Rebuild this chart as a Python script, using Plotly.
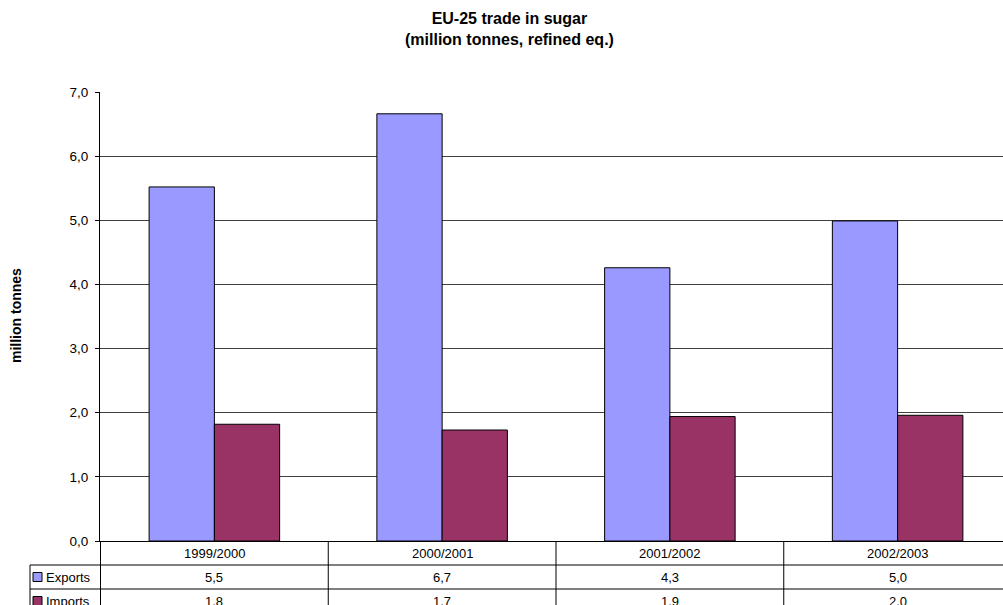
import plotly.graph_objects as go

categories = ["1999/2000", "2000/2001", "2001/2002", "2002/2003"]
exports = [5.52, 6.66, 4.26, 4.99]
imports = [1.82, 1.73, 1.94, 1.96]
series_names = ["Exports", "Imports"]
colors = ["#9999FF", "#993366"]
y_ticks = [0, 1, 2, 3, 4, 5, 6, 7]
y_tick_labels = ["0,0", "1,0", "2,0", "3,0", "4,0", "5,0", "6,0", "7,0"]

W, H = 1020, 620
L, R, T, B = 100, 1012, 92, 541
FONT = "Liberation Sans, Arial, sans-serif"


def px2x(px):
    return (px - L) / (R - L)


def py2y(py):
    return (B - py) / (B - T)


def fmt(v):
    return f"{v:.1f}".replace(".", ",")


fig = go.Figure()
for name, vals, col in zip(series_names, [exports, imports], colors):
    fig.add_trace(go.Bar(x=categories, y=vals, name=name, marker_color=col,
                         marker_line_color="#000000", marker_line_width=1,
                         showlegend=False, hoverinfo="skip"))

shapes = []
annotations = []
bottom_y = py2y(613)
for i in range(len(categories) + 1):
    shapes.append(dict(type="line", xref="x", yref="paper", x0=i - 0.5, x1=i - 0.5,
                       y0=0, y1=bottom_y, line=dict(color="#000000", width=1)))
for py in [565, 589, 613]:
    shapes.append(dict(type="line", xref="paper", yref="paper", x0=px2x(30), x1=1,
                       y0=py2y(py), y1=py2y(py), line=dict(color="#000000", width=1)))
shapes.append(dict(type="line", xref="paper", yref="paper", x0=px2x(30), x1=px2x(30),
                   y0=py2y(565), y1=bottom_y, line=dict(color="#000000", width=1)))

row_centers = [577, 601]
for name, vals, col, rc in zip(series_names, [exports, imports], colors, row_centers):
    shapes.append(dict(type="rect", xref="paper", yref="paper",
                       x0=px2x(33), x1=px2x(42), y0=py2y(rc + 4.5), y1=py2y(rc - 4.5),
                       fillcolor=col, line=dict(color="#000000", width=1)))
    annotations.append(dict(text=name, xref="paper", yref="paper", x=px2x(44), y=py2y(rc),
                            xanchor="left", yanchor="middle", showarrow=False,
                            font=dict(size=13, color="#000000", family=FONT)))
    for c, v in zip(categories, vals):
        annotations.append(dict(text=fmt(v), xref="x", yref="paper", x=c, y=py2y(rc),
                                xanchor="center", yanchor="middle", showarrow=False,
                                font=dict(size=13, color="#000000", family=FONT)))
for c in categories:
    annotations.append(dict(text=c, xref="x", yref="paper", x=c, y=py2y(553),
                            xanchor="center", yanchor="middle", showarrow=False,
                            font=dict(size=13, color="#000000", family=FONT)))

annotations.append(dict(text="<b>EU-25 trade in sugar<br>(million tonnes, refined eq.)</b>",
                        xref="paper", yref="paper", x=px2x(509), y=py2y(29),
                        xanchor="center", yanchor="middle", showarrow=False,
                        font=dict(size=16, color="#000000", family=FONT)))
annotations.append(dict(text="<b>million tonnes</b>", xref="paper", yref="paper",
                        x=px2x(16), y=py2y(316), textangle=-90,
                        xanchor="center", yanchor="middle", showarrow=False,
                        font=dict(size=14, color="#000000", family=FONT)))

fig.update_layout(
    width=W, height=H,
    margin=dict(l=L, r=W - R, t=T, b=H - B, pad=0),
    paper_bgcolor="#FFFFFF", plot_bgcolor="#FFFFFF",
    barmode="group", bargap=0.427, bargroupgap=0,
    font=dict(family=FONT, size=13, color="#000000"),
    shapes=shapes, annotations=annotations,
    hovermode=False,
    xaxis=dict(showticklabels=False, showgrid=False, ticks="", showline=True,
               linecolor="#000000", linewidth=1, zeroline=False, fixedrange=True),
    yaxis=dict(range=[0, 7], tickvals=y_ticks, ticktext=y_tick_labels,
               showgrid=True, gridcolor="#404040", gridwidth=1,
               showline=True, linecolor="#000000", linewidth=1,
               ticks="outside", ticklen=4, tickcolor="#000000",
               ticklabelstandoff=4,
               zeroline=False, fixedrange=True,
               tickfont=dict(size=13.5, family=FONT, color="#000000")),
)

fig.write_html("out.html", config={"displayModeBar": False},
               post_script="document.body.style.overflow='hidden';document.documentElement.style.overflow='hidden';")
